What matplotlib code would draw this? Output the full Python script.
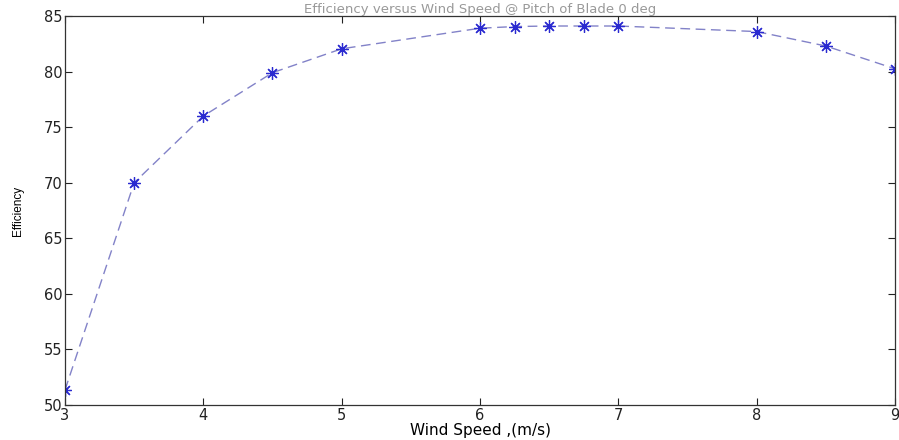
import matplotlib
matplotlib.use("Agg")
import matplotlib.pyplot as plt

wind_speed = [3, 3.5, 4, 4.5, 5, 6, 6.25, 6.5, 6.75, 7, 8, 8.5, 9]
efficiency = [51.35, 70.0, 76.0, 79.9, 82.05, 83.9, 84.05, 84.1, 84.1, 84.1, 83.6, 82.3, 80.25]
x_ticks = [3, 4, 5, 6, 7, 8, 9]
y_ticks = [50, 55, 60, 65, 70, 75, 80, 85]

plt.rcParams['font.family'] = ['DejaVu Sans']

fig = plt.figure(figsize=(8.99, 4.40), dpi=100)
ax = fig.add_axes([65/899, 1-405/440, (895-65)/899, (405-16)/440])

ax.plot(wind_speed, efficiency, linestyle=(0, (7, 4)), color='#8282c8', linewidth=1.0)
ax.plot(wind_speed, efficiency, linestyle='none', marker=(8, 2, 0), color='#2a2ad0',
        markersize=9, markeredgewidth=0.9)

ax.set_xlim(3, 9)
ax.set_ylim(50, 85)
ax.set_xticks(x_ticks)
ax.set_yticks(y_ticks)
ax.tick_params(direction='in', top=True, right=True, length=5, width=0.8,
               labelsize=10.5, colors='#222222', pad=2)
for s in ax.spines.values():
    s.set_linewidth(0.9)
    s.set_color('#333333')

ax.set_xlabel('Wind Speed ,(m/s)', fontsize=11, labelpad=0)
ax.set_ylabel('Efficiency', fontsize=8.5, family='Liberation Sans', labelpad=14)
ax.set_title('Efficiency versus Wind Speed @ Pitch of Blade 0 deg', fontsize=9.5,
             color='#999999', pad=2)

fig.savefig('out.png', dpi=100)
